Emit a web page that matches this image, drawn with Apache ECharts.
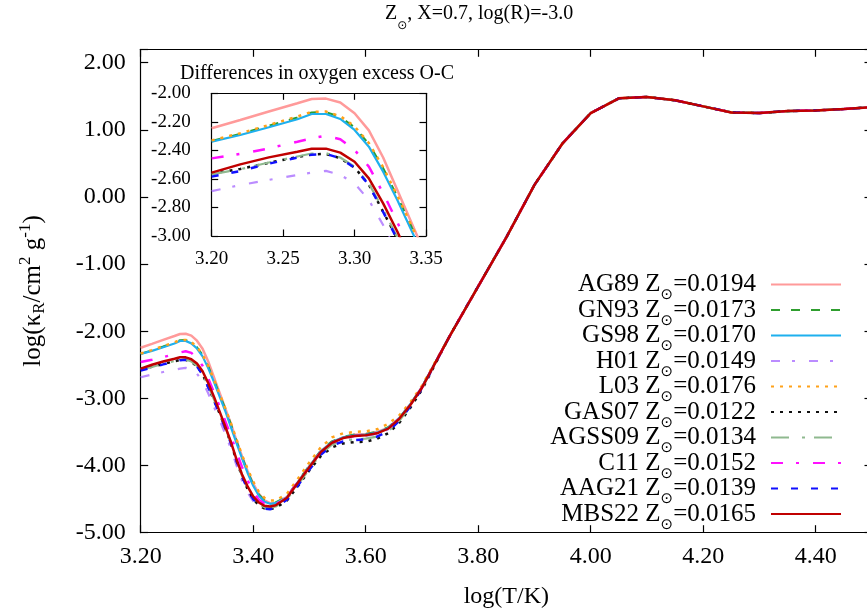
<!DOCTYPE html>
<html><head><meta charset="utf-8">
<script src="https://cdn.jsdelivr.net/npm/echarts@6/dist/echarts.min.js"></script>
<style>html,body{margin:0;padding:0;background:#fff}#c{width:867px;height:616px}</style>
</head><body><div id="c"></div>
<script>
// ---------- data ----------
const logT_head = [3.20,3.22,3.24,3.26,3.27,3.28,3.29,3.30,3.31,3.32,3.33,3.34,3.35,
  3.36,3.37,3.38,3.39,3.40,3.41,3.42,3.43,3.44,
  3.46,3.48,3.50,3.52,3.54,3.56,3.58,3.60,3.62,3.64,3.66,3.68,3.70];
const logT_tail = [3.75,3.80,3.85,3.90,3.95,4.00,4.05,4.10,4.15,4.20,4.25,4.30,4.35,4.40,4.45,4.50];
const kappa_tail = [-2.06,-1.33,-0.60,0.18,0.80,1.25,1.47,1.49,1.44,1.35,1.26,1.25,1.28,1.29,1.31,1.34];

const AG89 = [-2.245,-2.187,-2.128,-2.070,-2.040,-2.037,-2.065,-2.140,-2.260,-2.450,-2.680,-2.910,-3.140,
  -3.37,-3.62,-3.86,-4.08,-4.27,-4.42,-4.52,-4.56,-4.56,
  -4.47,-4.24,-4.01,-3.79,-3.65,-3.58,-3.54,-3.53,-3.50,-3.44,-3.29,-3.08,-2.83];
const GN93 = [-2.335,-2.285,-2.228,-2.170,-2.135,-2.133,-2.165,-2.240,-2.355,-2.525,-2.725,-2.940,-3.150,
  -3.38,-3.63,-3.87,-4.09,-4.28,-4.43,-4.52,-4.56,-4.55,
  -4.46,-4.23,-4.00,-3.78,-3.64,-3.57,-3.54,-3.53,-3.50,-3.43,-3.29,-3.08,-2.83];
const GS98 = [-2.339,-2.292,-2.238,-2.182,-2.145,-2.145,-2.180,-2.257,-2.374,-2.549,-2.750,-2.965,-3.180,
  -3.42,-3.66,-3.89,-4.11,-4.30,-4.45,-4.54,-4.57,-4.56,
  -4.47,-4.24,-4.01,-3.79,-3.65,-3.58,-3.55,-3.54,-3.51,-3.44,-3.29,-3.08,-2.83];
const H01 = [-2.685,-2.643,-2.607,-2.572,-2.556,-2.544,-2.572,-2.631,-2.748,-2.923,-3.120,-3.320,-3.520,
  -3.74,-3.99,-4.22,-4.40,-4.53,-4.60,-4.62,-4.61,-4.58,
  -4.47,-4.24,-4.02,-3.80,-3.67,-3.60,-3.57,-3.56,-3.53,-3.46,-3.31,-3.09,-2.84];
const L03 = [-2.330,-2.280,-2.222,-2.163,-2.130,-2.128,-2.160,-2.232,-2.348,-2.518,-2.718,-2.930,-3.140,
  -3.36,-3.60,-3.84,-4.05,-4.24,-4.39,-4.48,-4.52,-4.52,
  -4.42,-4.19,-3.95,-3.73,-3.58,-3.52,-3.50,-3.49,-3.46,-3.38,-3.25,-3.05,-2.81];
const GAS07 = [-2.562,-2.530,-2.487,-2.447,-2.428,-2.425,-2.455,-2.520,-2.640,-2.830,-3.020,-3.220,-3.430,
  -3.66,-3.92,-4.16,-4.35,-4.50,-4.59,-4.64,-4.65,-4.63,
  -4.52,-4.30,-4.07,-3.86,-3.73,-3.67,-3.65,-3.645,-3.60,-3.52,-3.36,-3.13,-2.87];
const AGSS09 = [-2.568,-2.532,-2.485,-2.443,-2.422,-2.420,-2.450,-2.515,-2.632,-2.815,-3.010,-3.210,-3.420,
  -3.65,-3.91,-4.15,-4.34,-4.49,-4.58,-4.62,-4.63,-4.61,
  -4.50,-4.28,-4.05,-3.83,-3.69,-3.63,-3.61,-3.60,-3.57,-3.49,-3.33,-3.11,-2.85];
const C11 = [-2.456,-2.425,-2.386,-2.339,-2.315,-2.297,-2.322,-2.397,-2.514,-2.700,-2.905,-3.115,-3.330,
  -3.55,-3.79,-4.02,-4.22,-4.39,-4.51,-4.57,-4.59,-4.58,
  -4.47,-4.24,-4.02,-3.80,-3.66,-3.59,-3.56,-3.55,-3.52,-3.45,-3.30,-3.09,-2.84];
const AAG21 = [-2.584,-2.545,-2.493,-2.450,-2.430,-2.425,-2.455,-2.522,-2.642,-2.832,-3.025,-3.230,-3.440,
  -3.66,-3.92,-4.16,-4.35,-4.50,-4.59,-4.64,-4.65,-4.62,
  -4.51,-4.29,-4.06,-3.84,-3.70,-3.64,-3.62,-3.61,-3.57,-3.49,-3.33,-3.11,-2.85];
const MBS22 = [-2.556,-2.498,-2.449,-2.409,-2.388,-2.388,-2.416,-2.480,-2.596,-2.771,-2.970,-3.190,-3.410,
  -3.64,-3.90,-4.13,-4.31,-4.46,-4.55,-4.60,-4.61,-4.59,
  -4.48,-4.25,-4.02,-3.80,-3.66,-3.59,-3.56,-3.55,-3.52,-3.45,-3.30,-3.09,-2.84];

const seriesNames = ['AG89 Z⊙=0.0194','GN93 Z⊙=0.0173','GS98 Z⊙=0.0170','H01 Z⊙=0.0149','L03 Z⊙=0.0176',
  'GAS07 Z⊙=0.0122','AGSS09 Z⊙=0.0134','C11 Z⊙=0.0152','AAG21 Z⊙=0.0139','MBS22 Z⊙=0.0165'];
const seriesHeads = [AG89, GN93, GS98, H01, L03, GAS07, AGSS09, C11, AAG21, MBS22];

const xTicksMain = {min: 3.2, max: 4.5, interval: 0.2};
const yTicksMain = {min: -5, max: 2.2, interval: 1};
const xTicksInset = {min: 3.2, max: 3.35, interval: 0.05};
const yTicksInset = {min: -3, max: -2, interval: 0.2};

// ---------- styles ----------
const styles = [
  {color: '#ff9a9a', width: 2.5, type: 'solid'},
  {color: '#2f9e2f', width: 2.2, type: [9, 11]},
  {color: '#1eb0ee', width: 2.2, type: 'solid'},
  {color: '#bb8cff', width: 2.2, type: [9, 12, 3, 14]},
  {color: '#ffa21a', width: 2.5, type: [3, 6]},
  {color: '#111111', width: 2.5, type: [3, 6]},
  {color: '#8fb98f', width: 2.2, type: [18, 13, 3, 9]},
  {color: '#ff10ff', width: 2.5, type: [12, 13, 3, 14]},
  {color: '#1010ff', width: 2.5, type: [7, 13]},
  {color: '#c00000', width: 2.5, type: 'solid'}
];

const FONT = 'Liberation Serif';
const fmt2 = v => v.toFixed(2);

function buildData(head) {
  const out = [];
  logT_head.forEach((t, i) => out.push([t, head[i]]));
  logT_tail.forEach((t, i) => out.push([t, kappa_tail[i]]));
  return out;
}

const series = [];
[[0, 0], [2, 2]].forEach(([xi, yi]) => {
  seriesNames.forEach((name, i) => {
    const ls = {color: styles[i].color, width: styles[i].width, type: styles[i].type, cap: 'butt'};
    series.push({name, type: 'line', xAxisIndex: xi, yAxisIndex: yi, data: buildData(seriesHeads[i]),
      symbol: 'none', showSymbol: false, lineStyle: ls, itemStyle: {color: styles[i].color},
      animation: false, clip: true});
  });
});

const axisLineStyle = {show: true, onZero: false, lineStyle: {color: '#000', width: 1.2}};
const tickIn = len => ({show: true, inside: true, length: len, lineStyle: {color: '#000', width: 1.2}});

const chart = echarts.init(document.getElementById('c'), null, {renderer: 'canvas'});
chart.setOption({
  animation: false,
  backgroundColor: '#fff',
  title: [{
    text: 'Z{s|⊙}, X=0.7, log(R)=-3.0',
    left: 385, top: 4, padding: 0,
    textStyle: {fontFamily: FONT, fontSize: 20, fontWeight: 'normal', color: '#000',
      rich: {s: {fontFamily: 'DejaVu Sans', fontSize: 12, lineHeight: 12, padding: [24, 0, 0, 0], color: '#000'}}}
  }],
  graphic: [{
    type: 'text', x: 317, y: 74, silent: true,
    style: {text: 'Differences in oxygen excess O-C', font: '20px "Liberation Serif"', fill: '#000',
      textAlign: 'center', textVerticalAlign: 'middle'}
  }],
  legend: {
    orient: 'vertical', right: 20, top: 261, align: 'right',
    itemWidth: 70, itemHeight: 14, itemGap: -11.5,
    selectedMode: false, padding: 5,
    data: seriesNames,
    itemStyle: {color: 'rgba(0,0,0,0)', borderColor: 'rgba(0,0,0,0)', borderWidth: 0, opacity: 0},
    formatter: n => n.replace('⊙', '{s|⊙}'),
    textStyle: {fontFamily: FONT, fontSize: 25, color: '#000', lineHeight: 25, padding: [0, 10, 0, 0],
      rich: {s: {fontFamily: 'DejaVu Sans', fontSize: 15, lineHeight: 14, padding: [22, 0, 0, 0], color: '#000'}}}
  },
  grid: [
    {left: 140.7, right: -5, top: 49.3, bottom: 83.3, containLabel: false, outerBoundsMode: 'none'},
    {left: 211.7, top: 93.3, width: 214.3, height: 142.7, containLabel: false, outerBoundsMode: 'none'}
  ],
  xAxis: [
    {gridIndex: 0, type: 'value', position: 'bottom', min: xTicksMain.min, max: xTicksMain.max, interval: xTicksMain.interval,
      axisLine: axisLineStyle, axisTick: tickIn(7.5), splitLine: {show: false},
      axisLabel: {show: true, margin: 12, color: '#000', fontFamily: FONT, fontSize: 24,
        formatter: v => (v > 4.45 ? '' : fmt2(v)), showMaxLabel: false},
      name: 'log(T/K)', nameLocation: 'middle', nameGap: 52,
      nameTextStyle: {fontFamily: FONT, fontSize: 24, color: '#000'}},
    {gridIndex: 0, type: 'value', position: 'top', min: xTicksMain.min, max: xTicksMain.max, interval: xTicksMain.interval,
      axisLine: axisLineStyle, axisTick: tickIn(7.5), splitLine: {show: false}, axisLabel: {show: false}},
    {gridIndex: 1, type: 'value', position: 'bottom', min: xTicksInset.min, max: xTicksInset.max, interval: xTicksInset.interval,
      axisLine: axisLineStyle, axisTick: tickIn(6.5), splitLine: {show: false},
      axisLabel: {show: true, margin: 14, color: '#000', fontFamily: FONT, fontSize: 19, formatter: fmt2}},
    {gridIndex: 1, type: 'value', position: 'top', min: xTicksInset.min, max: xTicksInset.max, interval: xTicksInset.interval,
      axisLine: axisLineStyle, axisTick: tickIn(6.5), splitLine: {show: false}, axisLabel: {show: false}}
  ],
  yAxis: [
    {gridIndex: 0, type: 'value', position: 'left', min: yTicksMain.min, max: yTicksMain.max, interval: yTicksMain.interval,
      axisLine: axisLineStyle, axisTick: tickIn(7.5), splitLine: {show: false},
      axisLabel: {show: true, margin: 15, color: '#000', fontFamily: FONT, fontSize: 24,
        formatter: v => (v > 2.05 ? '' : fmt2(v))},
      name: 'log(κ{sub|R}/cm{sup|2} g{sup|-1})', nameLocation: 'middle', nameRotate: 90, nameGap: 95,
      nameTextStyle: {fontFamily: FONT, fontSize: 25, color: '#000',
        rich: {
          sub: {fontFamily: FONT, fontSize: 17, lineHeight: 16, padding: [12, 0, 0, 0], color: '#000'},
          sup: {fontFamily: FONT, fontSize: 17, lineHeight: 16, padding: [0, 0, 16, 0], color: '#000'}
        }}},
    {gridIndex: 0, type: 'value', position: 'right', min: yTicksMain.min, max: yTicksMain.max, interval: yTicksMain.interval,
      axisLine: axisLineStyle, axisTick: tickIn(7.5), splitLine: {show: false}, axisLabel: {show: false}},
    {gridIndex: 1, type: 'value', position: 'left', min: yTicksInset.min, max: yTicksInset.max, interval: yTicksInset.interval,
      axisLine: axisLineStyle, axisTick: tickIn(6.5), splitLine: {show: false},
      axisLabel: {show: true, margin: 21, color: '#000', fontFamily: FONT, fontSize: 19, formatter: fmt2}},
    {gridIndex: 1, type: 'value', position: 'right', min: yTicksInset.min, max: yTicksInset.max, interval: yTicksInset.interval,
      axisLine: axisLineStyle, axisTick: tickIn(6.5), splitLine: {show: false}, axisLabel: {show: false}}
  ],
  series
});
</script>
</body></html>
